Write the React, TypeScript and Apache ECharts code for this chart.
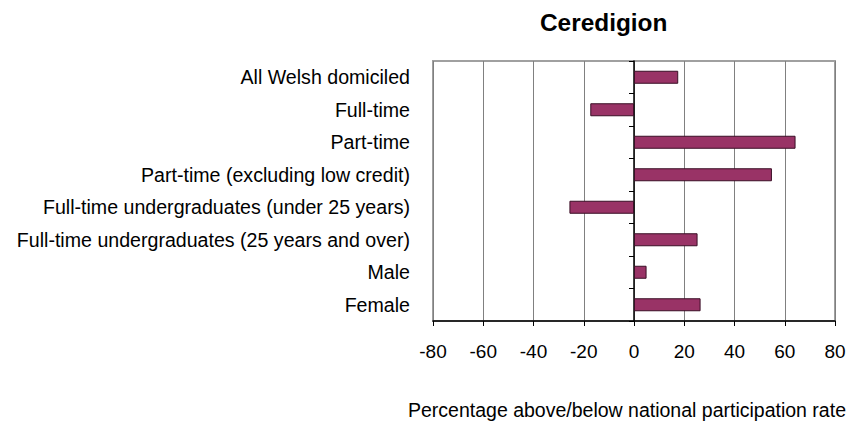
import React, { useEffect, useRef } from "react";
import * as echarts from "echarts";

const categories = [
  "All Welsh domiciled",
  "Full-time",
  "Part-time",
  "Part-time (excluding low credit)",
  "Full-time undergraduates (under 25 years)",
  "Full-time undergraduates (25 years and over)",
  "Male",
  "Female",
];
const values = [17.6, -17.4, 64.3, 54.9, -25.7, 25.3, 5.0, 26.5];
const xTicks = { min: -80, max: 80, interval: 20 };
const titleText = "Ceredigion";
const xAxisName = "Percentage above/below national participation rate";

const FONT = "'Liberation Sans', Arial, Helvetica, sans-serif";

export default function App() {
  const ref = useRef<HTMLDivElement>(null);
  useEffect(() => {
    if (!ref.current) return;
    const chart = echarts.init(ref.current, null, { renderer: "svg" });
    chart.setOption({
      animation: false,
      backgroundColor: "#ffffff",
      title: {
        text: titleText,
        left: 540,
        top: 10,
        padding: 0,
        textStyle: { fontFamily: FONT, fontSize: 24.4, fontWeight: "bold", color: "#000" },
      },
      grid: {
        left: 433,
        right: 15,
        top: 61,
        bottom: 105,
        show: true,
        borderColor: "#a0a0a0",
        borderWidth: 2,
        backgroundColor: "transparent",
      },
      xAxis: {
        type: "value",
        min: xTicks.min,
        max: xTicks.max,
        interval: xTicks.interval,
        name: xAxisName,
        nameLocation: "middle",
        nameGap: 79,
        nameTextStyle: { fontFamily: FONT, fontSize: 19.5, color: "#000", padding: [0, 0, 0, -14] },
        axisLine: { show: true, onZero: false, lineStyle: { color: "#000", width: 1.5 } },
        axisTick: { show: true, length: 5, lineStyle: { color: "#000" } },
        axisLabel: { fontFamily: FONT, fontSize: 19, color: "#000", margin: 21 },
        splitLine: { show: true, lineStyle: { color: "#808080", width: 1 } },
      },
      yAxis: [
        {
          type: "category",
          data: categories,
          inverse: true,
          position: "left",
          axisLine: { show: false, onZero: false },
          axisTick: { show: false },
          axisLabel: { fontFamily: FONT, fontSize: 19.6, color: "#000", margin: 23 },
          splitLine: { show: false },
        },
        {
          type: "category",
          data: categories,
          inverse: true,
          position: "left",
          axisLine: { show: true, onZero: true, lineStyle: { color: "#000", width: 1.5 } },
          axisTick: { show: true, length: 5, lineStyle: { color: "#000" } },
          axisLabel: { show: false },
          splitLine: { show: false },
        },
      ],
      series: [
        {
          type: "bar",
          yAxisIndex: 0,
          data: values,
          barWidth: 13,
          itemStyle: { color: "#993366", borderColor: "#3a0f26", borderWidth: 1 },
        },
      ],
    });
    return () => chart.dispose();
  }, []);
  return <div ref={ref} style={{ width: 850, height: 426, position: "fixed", left: 0, top: 0 }} />;
}
